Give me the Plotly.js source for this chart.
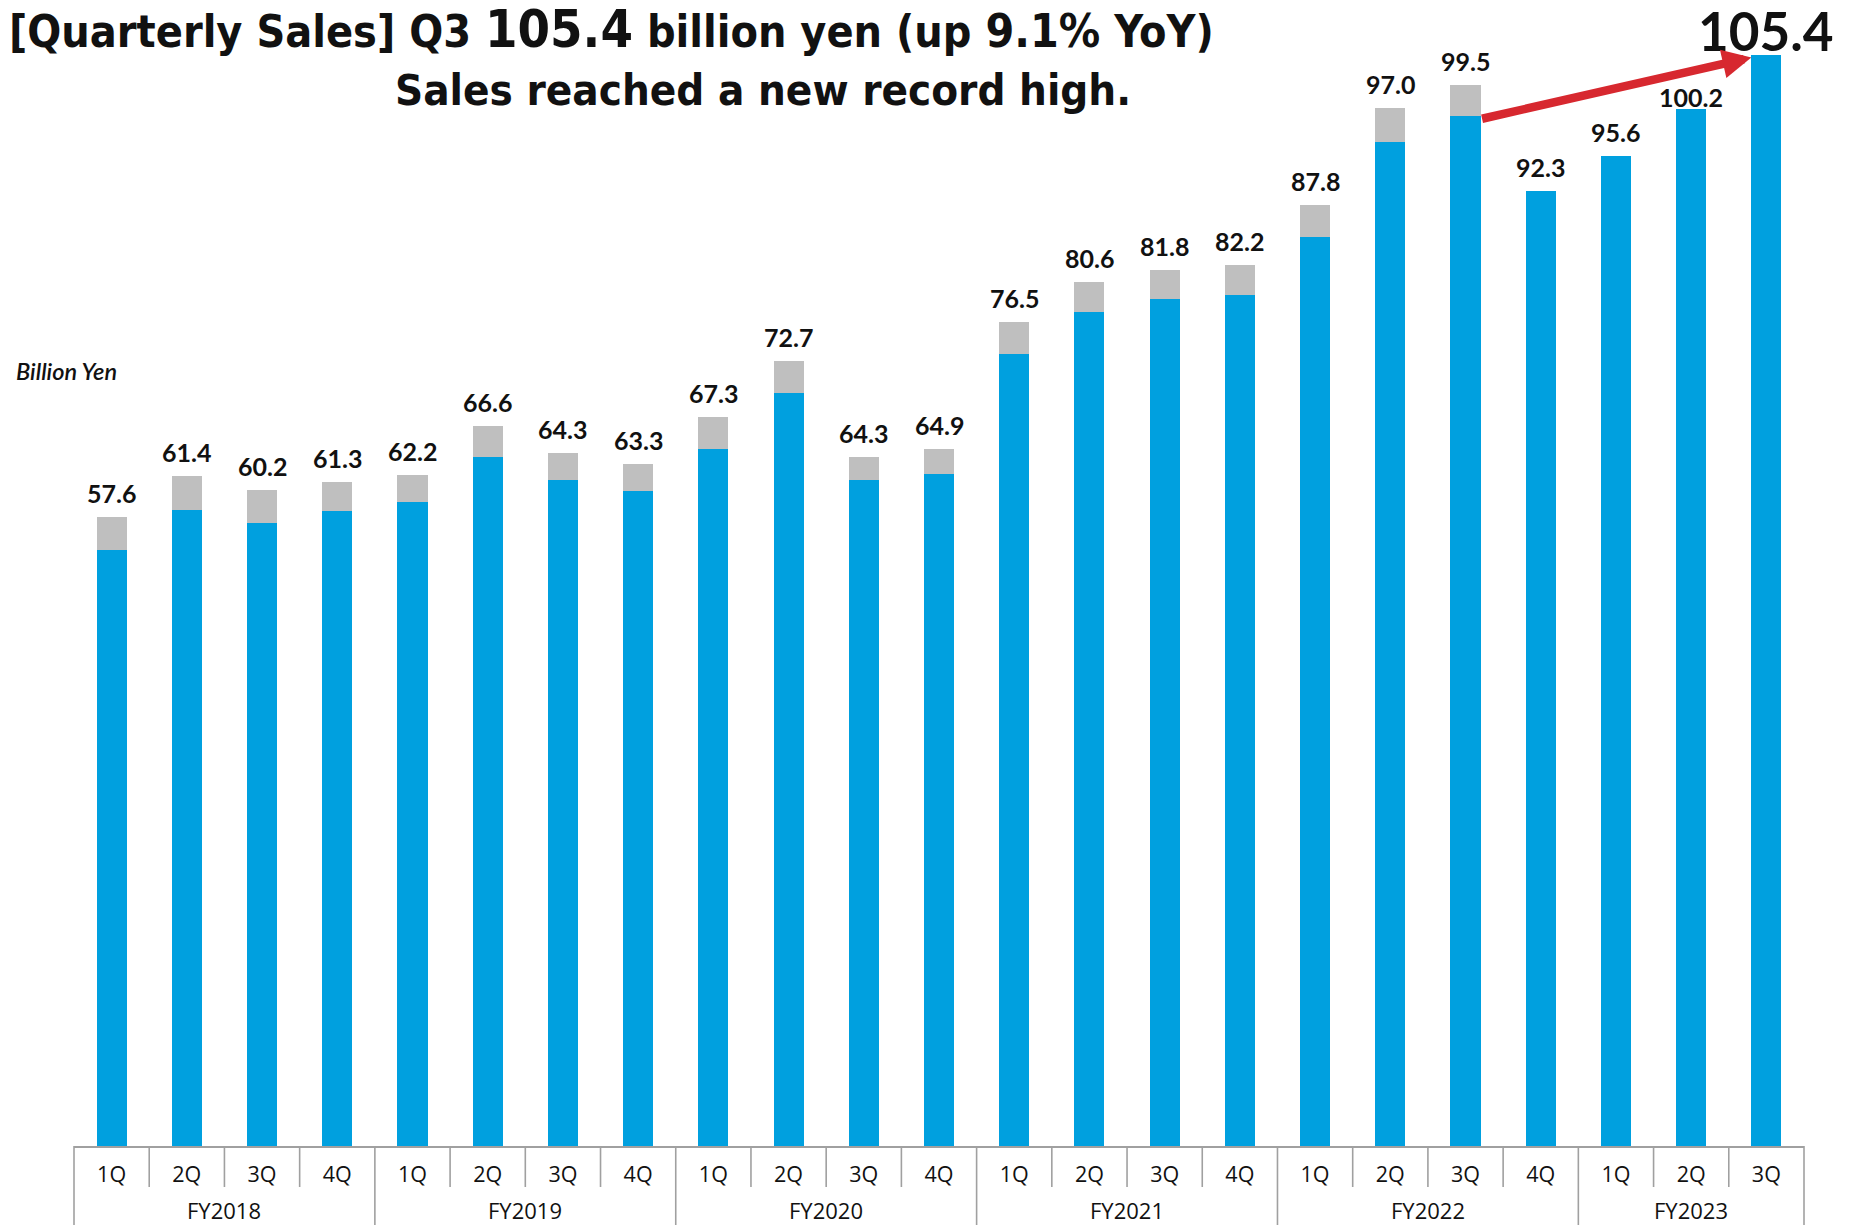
<!DOCTYPE html>
<html>
<head>
<meta charset="utf-8">
<script src="https://cdn.plot.ly/plotly-3.0.1.min.js"></script>
<style>
html, body { margin: 0; padding: 0; background: #ffffff; }
#chart { width: 1852px; height: 1225px; }
</style>
</head>
<body>
<div id="chart"></div>
<script>
// ---- data ----
const fiscalYears = ['FY2018','FY2018','FY2018','FY2018',
                     'FY2019','FY2019','FY2019','FY2019',
                     'FY2020','FY2020','FY2020','FY2020',
                     'FY2021','FY2021','FY2021','FY2021',
                     'FY2022','FY2022','FY2022','FY2022',
                     'FY2023','FY2023','FY2023'];
const quarters = ['1Q','2Q','3Q','4Q',
                  '1Q','2Q','3Q','4Q',
                  '1Q','2Q','3Q','4Q',
                  '1Q','2Q','3Q','4Q',
                  '1Q','2Q','3Q','4Q',
                  '1Q','2Q','3Q'];
const sales = [57.6, 61.4, 60.2, 61.3,
               62.2, 66.6, 64.3, 63.3,
               67.3, 72.7, 64.3, 64.9,
               76.5, 80.6, 81.8, 82.2,
               87.8, 97.0, 99.5, 92.3,
               95.6, 100.2, 105.4];
// grey segment stacked on top of the blue bars
const adjustment = [3.2, 3.3, 3.2, 2.8,
                    2.6, 3.0, 2.6, 2.6,
                    3.1, 3.1, 2.3, 2.4,
                    3.1, 2.9, 2.8, 2.9,
                    3.1, 3.3, 3.0, null,
                    null, null, null];
const valueLabels = sales.map(v => v.toFixed(1));
const unitLabel = 'Billion Yen';
const headlineParts = ['[Quarterly Sales] Q3 ', '105.4', ' billion yen (up ', '9.1%', ' YoY)'];
const subHeadline = 'Sales reached a new record high.';

// ---- geometry / style ----
const W = 1852, H = 1225;
const M = { l: 74, r: 48, t: 28, b: 79 };
const plotH = H - M.t - M.b;
const pxToPaperY = px => -px / plotH;        // px below the x axis
const n = sales.length;
const idx = sales.map((_, i) => i);
const barWidth = 0.4;
const BLUE = '#00A0DF', GREY = '#BFBFBF', RED = '#D7282F', LINE = '#A0A0A0';
const labelFont = { family: 'Lato, "Noto Sans", sans-serif', size: 25, color: '#111111', weight: 700 };
const axisFont = { family: '"Open Sans", "Noto Sans", sans-serif', size: 21.5, color: '#111111' };
const yearFont = { family: '"Open Sans", "Noto Sans", sans-serif', size: 22, color: '#111111' };
const titleFamily = '"Liberation Sans Narrow", "DejaVu Sans Condensed", Lato, sans-serif';

const traces = [
  { type: 'bar', name: 'Sales', x: idx, y: sales, width: barWidth,
    marker: { color: BLUE, line: { width: 0 } }, hoverinfo: 'skip' },
  { type: 'bar', name: 'Adjustment', x: idx, y: adjustment, width: barWidth,
    marker: { color: GREY, line: { width: 0 } }, hoverinfo: 'skip' }
];

const annotations = [];
const last = n - 1;
const sameQuarterLastYear = last - 4;
idx.forEach(i => {
  const top = sales[i] + (adjustment[i] || 0);
  let font = labelFont, yshift = 7;
  if (i === last) { font = Object.assign({}, labelFont, { size: 53 }); yshift = -9; }
  else if (i === last - 1) { yshift = -5; }
  annotations.push({ xref: 'x', yref: 'y', x: i, y: top, text: valueLabels[i],
    showarrow: false, yanchor: 'bottom', xanchor: 'center', yshift: yshift, font: font });
});

// fiscal-year group labels
let start = 0;
for (let i = 1; i <= n; i++) {
  if (i === n || fiscalYears[i] !== fiscalYears[i - 1]) {
    annotations.push({ xref: 'x', yref: 'paper', x: (start + i - 1) / 2, y: pxToPaperY(64),
      text: fiscalYears[start], showarrow: false, yanchor: 'middle', xanchor: 'center',
      borderpad: 0, font: yearFont });
    start = i;
  }
}

// growth arrow from same quarter last year to the latest quarter
annotations.push({ xref: 'x', yref: 'y', axref: 'x', ayref: 'y',
  x: last - barWidth / 2, y: sales[last] - 0.25,
  ax: sameQuarterLastYear + barWidth / 2, ay: sales[sameQuarterLastYear] - 0.3,
  text: '', showarrow: true, arrowhead: 2, arrowsize: 0.68, arrowwidth: 8.5, arrowcolor: RED, standoff: 0 });

// unit label
annotations.push({ xref: 'paper', yref: 'paper', x: 0, xshift: -60, y: 1 - (371 - M.t) / plotH,
  text: unitLabel, showarrow: false, xanchor: 'left', yanchor: 'middle',
  font: { family: 'Lato, sans-serif', size: 23.5, style: 'italic', weight: 600, color: '#111111' } });

// second headline line
annotations.push({ xref: 'paper', yref: 'paper', x: (763 - M.l) / (W - M.l - M.r), y: 1 + (M.t - 90) / plotH,
  text: subHeadline, showarrow: false, xanchor: 'center', yanchor: 'middle',
  font: { family: titleFamily, size: 43.5, weight: 700, color: '#111111' } });

// separators under the axis: short between quarters, long between fiscal years
const shapes = [];
for (let k = 0; k <= n; k++) {
  const yearEdge = (k === 0 || k === n || fiscalYears[k] !== fiscalYears[k - 1]);
  shapes.push({ type: 'line', xref: 'paper', yref: 'paper', x0: k / n, x1: k / n,
    y0: 0, y1: pxToPaperY(yearEdge ? 80 : 41), line: { color: LINE, width: 1.6 }, layer: 'above' });
}

const layout = {
  width: W, height: H,
  margin: M,
  paper_bgcolor: '#ffffff', plot_bgcolor: '#ffffff',
  barmode: 'stack',
  showlegend: false,
  hovermode: false,
  title: {
    text: headlineParts[0] + '<span style="font-size:52px">' + headlineParts[1] + '</span>' +
          headlineParts[2] + '<span style="font-size:46px">' + headlineParts[3] + '</span>' + headlineParts[4],
    x: 9 / W, xanchor: 'left', xref: 'container',
    y: 1 - 47 / H, yanchor: 'bottom', yref: 'container',
    font: { family: titleFamily, size: 44.5, weight: 700, color: '#111111' }
  },
  xaxis: {
    range: [-0.5, n - 0.5],
    tickmode: 'array', tickvals: idx, ticktext: quarters,
    ticks: 'outside', ticklen: 8, tickcolor: 'rgba(0,0,0,0)',
    tickfont: axisFont,
    showline: true, linecolor: LINE, linewidth: 2,
    showgrid: false, zeroline: false, fixedrange: true
  },
  yaxis: {
    range: [0, 108],
    visible: false, showgrid: false, zeroline: false, fixedrange: true
  },
  annotations: annotations,
  shapes: shapes
};

Plotly.newPlot('chart', traces, layout, { staticPlot: true, displayModeBar: false });
</script>
</body>
</html>
